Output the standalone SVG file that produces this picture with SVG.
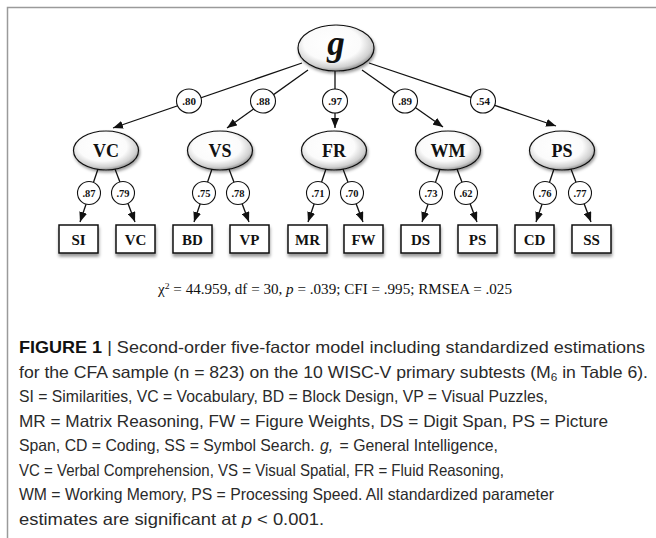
<svg xmlns="http://www.w3.org/2000/svg" width="656" height="538" viewBox="0 0 656 538">
<style>
.lat{stroke:#111;stroke-width:1.2;fill:url(#shade);filter:url(#sh)}
.box{stroke:#111;stroke-width:1.5;fill:#fff;filter:url(#bsh)}
.lbl{stroke:#111;stroke-width:1.1;fill:#fff}
.edge{stroke:#111;stroke-width:1.3;fill:none;marker-end:url(#arr)}
.ft{font-family:"Liberation Serif","Times New Roman",serif;font-weight:bold;fill:#111;text-anchor:middle}
.cap{font-family:"Liberation Sans",Arial,sans-serif;font-size:16.5px;fill:#2a2a2a}
</style>
<defs>
<radialGradient id="shade" cx="0.45" cy="0.4" r="0.62">
<stop offset="0" stop-color="#fff"/>
<stop offset="0.6" stop-color="#fbfbfb"/>
<stop offset="0.85" stop-color="#d0d0d0"/>
<stop offset="1" stop-color="#858585"/>
</radialGradient>
<filter id="sh" x="-20%" y="-20%" width="150%" height="160%">
<feDropShadow dx="1" dy="2" stdDeviation="1.5" flood-color="#000" flood-opacity="0.4"/>
</filter>
<filter id="bsh" x="-20%" y="-20%" width="150%" height="170%">
<feDropShadow dx="0.5" dy="3" stdDeviation="1.8" flood-color="#000" flood-opacity="0.4"/>
</filter>
<marker id="arr" markerUnits="userSpaceOnUse" markerWidth="10" markerHeight="8" refX="10" refY="4" orient="auto">
<path d="M0,0 L10,4 L0,8 z" fill="#111"/>
</marker>
</defs>
<rect width="656" height="538" fill="#fff"/>
<path d="M7.5,538 V7.5 H656" stroke="#9a9a9a" stroke-width="1.5" fill="none"/>

<g id="connectors">
<line class="edge" x1="302" y1="63" x2="113" y2="128"/>
<line class="edge" x1="308" y1="70" x2="227" y2="128"/>
<line class="edge" x1="335" y1="71" x2="335" y2="128"/>
<line class="edge" x1="362" y1="70" x2="443" y2="127"/>
<line class="edge" x1="369" y1="63" x2="556" y2="126"/>
<line class="edge" x1="98" y1="169" x2="80" y2="222"/>
<line class="edge" x1="115" y1="169" x2="135" y2="222"/>
<line class="edge" x1="212" y1="169" x2="194" y2="222"/>
<line class="edge" x1="229" y1="169" x2="249" y2="222"/>
<line class="edge" x1="326" y1="169" x2="308" y2="222"/>
<line class="edge" x1="343" y1="169" x2="363" y2="222"/>
<line class="edge" x1="440" y1="169" x2="422" y2="222"/>
<line class="edge" x1="457" y1="169" x2="477" y2="222"/>
<line class="edge" x1="554" y1="169" x2="536" y2="222"/>
<line class="edge" x1="571" y1="169" x2="591" y2="222"/>
<g id="loadings">
<ellipse class="lbl" cx="189" cy="101" rx="12.5" ry="12"/><text class="ft" x="189" y="105" font-size="11">.80</text>
<ellipse class="lbl" cx="263" cy="101" rx="12.5" ry="12"/><text class="ft" x="263" y="105" font-size="11">.88</text>
<ellipse class="lbl" cx="335" cy="101" rx="12.5" ry="12"/><text class="ft" x="335" y="105" font-size="11">.97</text>
<ellipse class="lbl" cx="405" cy="101" rx="12.5" ry="12"/><text class="ft" x="405" y="105" font-size="11">.89</text>
<ellipse class="lbl" cx="483" cy="101" rx="12.5" ry="12"/><text class="ft" x="483" y="105" font-size="11">.54</text>
<circle class="lbl" cx="89" cy="193" r="11.5"/><text class="ft" x="89" y="197" font-size="10.5">.87</text>
<circle class="lbl" cx="123" cy="193" r="11.5"/><text class="ft" x="123" y="197" font-size="10.5">.79</text>
<circle class="lbl" cx="204" cy="193" r="11.5"/><text class="ft" x="204" y="197" font-size="10.5">.75</text>
<circle class="lbl" cx="238" cy="193" r="11.5"/><text class="ft" x="238" y="197" font-size="10.5">.78</text>
<circle class="lbl" cx="318" cy="193" r="11.5"/><text class="ft" x="318" y="197" font-size="10.5">.71</text>
<circle class="lbl" cx="352" cy="193" r="11.5"/><text class="ft" x="352" y="197" font-size="10.5">.70</text>
<circle class="lbl" cx="431" cy="193" r="11.5"/><text class="ft" x="431" y="197" font-size="10.5">.73</text>
<circle class="lbl" cx="466" cy="193" r="11.5"/><text class="ft" x="466" y="197" font-size="10.5">.62</text>
<circle class="lbl" cx="545" cy="193" r="11.5"/><text class="ft" x="545" y="197" font-size="10.5">.76</text>
<circle class="lbl" cx="580" cy="193" r="11.5"/><text class="ft" x="580" y="197" font-size="10.5">.77</text>
</g>
</g>

<g id="g"><ellipse class="lat" cx="336" cy="48" rx="38" ry="23"/><text class="ft" x="336" y="55" font-size="35" font-style="italic">g</text></g>
<g id="f-VC"><ellipse class="lat" cx="106" cy="150.5" rx="32.5" ry="19.5"/><text class="ft" x="106" y="157" font-size="18">VC</text></g>
<g id="f-VS"><ellipse class="lat" cx="220" cy="150.5" rx="32.5" ry="19.5"/><text class="ft" x="220" y="157" font-size="18">VS</text></g>
<g id="f-FR"><ellipse class="lat" cx="334" cy="150.5" rx="32.5" ry="19.5"/><text class="ft" x="334" y="157" font-size="18">FR</text></g>
<g id="f-WM"><ellipse class="lat" cx="448" cy="150.5" rx="32.5" ry="19.5"/><text class="ft" x="448" y="157" font-size="18">WM</text></g>
<g id="f-PS"><ellipse class="lat" cx="562" cy="150.5" rx="32.5" ry="19.5"/><text class="ft" x="562" y="157" font-size="18">PS</text></g>

<g id="t-SI"><rect class="box" x="59" y="225" width="39" height="28"/><text class="ft" x="78.5" y="244.5" font-size="15">SI</text></g>
<g id="t-VC"><rect class="box" x="116" y="225" width="39" height="28"/><text class="ft" x="135.5" y="244.5" font-size="15">VC</text></g>
<g id="t-BD"><rect class="box" x="173" y="225" width="39" height="28"/><text class="ft" x="192.5" y="244.5" font-size="15">BD</text></g>
<g id="t-VP"><rect class="box" x="230" y="225" width="39" height="28"/><text class="ft" x="249.5" y="244.5" font-size="15">VP</text></g>
<g id="t-MR"><rect class="box" x="288" y="225" width="39" height="28"/><text class="ft" x="307.5" y="244.5" font-size="15">MR</text></g>
<g id="t-FW"><rect class="box" x="344" y="225" width="39" height="28"/><text class="ft" x="363.5" y="244.5" font-size="15">FW</text></g>
<g id="t-DS"><rect class="box" x="401" y="225" width="39" height="28"/><text class="ft" x="420.5" y="244.5" font-size="15">DS</text></g>
<g id="t-PS"><rect class="box" x="458" y="225" width="39" height="28"/><text class="ft" x="477.5" y="244.5" font-size="15">PS</text></g>
<g id="t-CD"><rect class="box" x="515" y="225" width="39" height="28"/><text class="ft" x="534.5" y="244.5" font-size="15">CD</text></g>
<g id="t-SS"><rect class="box" x="572" y="225" width="39" height="28"/><text class="ft" x="591.5" y="244.5" font-size="15">SS</text></g>

<text id="fit" x="158" y="294" font-family="Liberation Serif,'Times New Roman',serif" font-size="14" fill="#111" textLength="354" lengthAdjust="spacingAndGlyphs">χ<tspan font-size="9" dy="-5">2</tspan><tspan dy="5"> = 44.959, df = 30, </tspan><tspan font-style="italic">p</tspan> = .039; CFI = .995; RMSEA = .025</text>

<g id="caption" class="cap">
<text x="19" y="353" textLength="626" lengthAdjust="spacingAndGlyphs"><tspan font-weight="bold" fill="#111">FIGURE 1</tspan>  |  Second-order five-factor model including standardized estimations</text>
<text x="19" y="377.5" textLength="629" lengthAdjust="spacingAndGlyphs">for the CFA sample (n = 823) on the 10 WISC-V primary subtests (M<tspan font-size="11" dy="3">6</tspan><tspan dy="-3"> in Table 6).</tspan></text>
<text x="19" y="402" textLength="529" lengthAdjust="spacingAndGlyphs">SI = Similarities, VC = Vocabulary, BD = Block Design, VP = Visual Puzzles,</text>
<text x="19" y="426.5" textLength="589" lengthAdjust="spacingAndGlyphs">MR = Matrix Reasoning, FW = Figure Weights, DS = Digit Span, PS = Picture</text>
<text x="19" y="451" textLength="479" lengthAdjust="spacingAndGlyphs">Span, CD = Coding, SS = Symbol Search. <tspan font-style="italic" dx="1">g,</tspan><tspan dx="2"> = General Intelligence,</tspan></text>
<text x="19" y="475.5" textLength="485" lengthAdjust="spacingAndGlyphs">VC = Verbal Comprehension, VS = Visual Spatial, FR = Fluid Reasoning,</text>
<text x="19" y="500" textLength="535" lengthAdjust="spacingAndGlyphs">WM = Working Memory, PS = Processing Speed. All standardized parameter</text>
<text x="19" y="524.5" textLength="305" lengthAdjust="spacingAndGlyphs">estimates are significant at <tspan font-style="italic">p</tspan> &lt; 0.001.</text>
</g>
</svg>
